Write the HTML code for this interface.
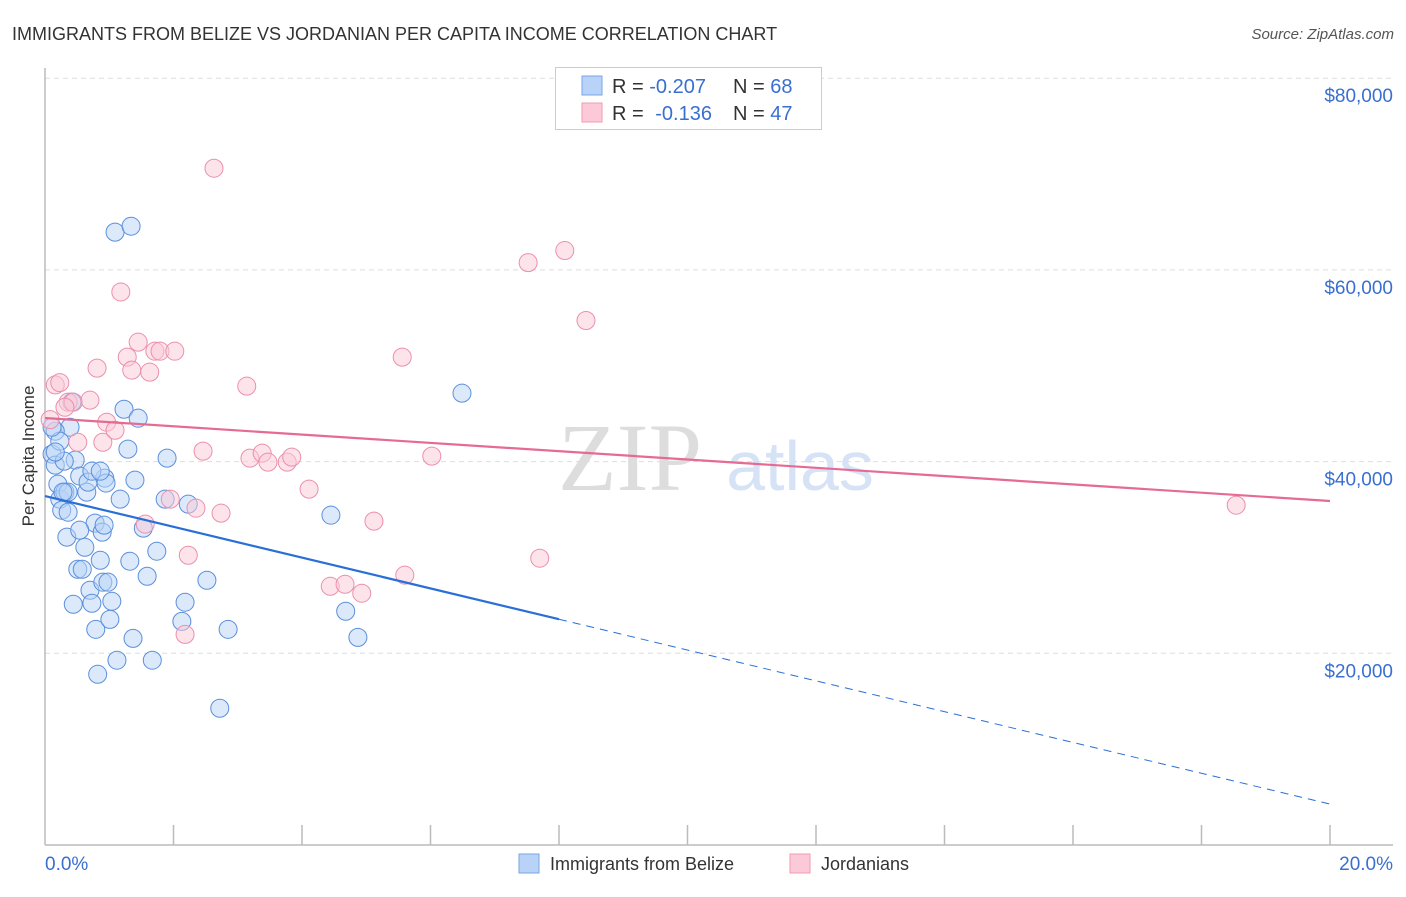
<!DOCTYPE html>
<html><head><meta charset="utf-8"><style>
body{margin:0;background:#fff;font-family:"Liberation Sans",sans-serif}
</style></head><body>
<svg id="c" width="1406" height="892" xmlns="http://www.w3.org/2000/svg" style="font-family:'Liberation Sans',sans-serif">
<text x="12" y="40" font-size="18" fill="#333">IMMIGRANTS FROM BELIZE VS JORDANIAN PER CAPITA INCOME CORRELATION CHART</text>
<text x="1394" y="39" font-size="15" fill="#555" font-style="italic" text-anchor="end">Source: ZipAtlas.com</text>
<text x="34" y="456" font-size="17" fill="#333" text-anchor="middle" transform="rotate(-90 34 456)">Per Capita Income</text>
<text x="630" y="490" font-size="96" fill="#ddd" font-family="Liberation Serif" text-anchor="middle">ZIP</text>
<text x="800" y="490" font-size="70" fill="#d6e2f5" text-anchor="middle">atlas</text>
<g id="grid"></g><g id="axes"></g><g id="pts"></g><g id="lines"></g>
<g>
<rect x="555.5" y="67.5" width="266" height="62" fill="#fff" stroke="#ccc"/>
<rect x="582" y="76" width="20" height="19" fill="#b8d3f7" stroke="#7aa6e6"/>
<rect x="582" y="103" width="20" height="19" fill="#fbc9d8" stroke="#f09ab4"/>
<text x="612" y="93" font-size="20" fill="#333">R = <tspan fill="#3a6fd0">-0.207</tspan></text>
<text x="733" y="93" font-size="20" fill="#333">N = <tspan fill="#3a6fd0">68</tspan></text>
<text x="612" y="120" font-size="20" fill="#333">R = <tspan fill="#3a6fd0" dx="6">-0.136</tspan></text>
<text x="733" y="120" font-size="20" fill="#333">N = <tspan fill="#3a6fd0">47</tspan></text>
</g>
<g>
<rect x="519" y="854" width="20" height="19" fill="#b8d3f7" stroke="#7aa6e6"/>
<text x="550" y="870" font-size="18" fill="#333">Immigrants from Belize</text>
<rect x="790" y="854" width="20" height="19" fill="#fbc9d8" stroke="#f09ab4"/>
<text x="821" y="870" font-size="18" fill="#333">Jordanians</text>
</g>
</svg>
<script>
const yTicks=[20000,40000,60000,80000];
const yTickLabels=["$20,000","$40,000","$60,000","$80,000"];
const xTickLabels=["0.0%","20.0%"];
const belizeX=[0.11,0.16,0.2,0.23,0.26,0.31,0.34,0.39,0.42,0.47,0.16,0.23,0.3,0.36,0.44,0.51,0.54,0.58,0.62,0.65,0.67,0.7,0.73,0.78,0.79,0.82,0.86,0.89,0.9,0.93,0.95,0.98,1.01,1.04,1.09,1.12,1.17,1.23,1.29,1.32,1.34,1.37,1.4,1.45,1.53,1.59,1.67,1.74,1.87,1.9,2.13,2.18,2.23,2.52,2.72,2.85,4.45,4.68,4.87,6.49,0.11,0.16,0.28,0.36,0.73,0.86,0.54,0.92];
const belizeY=[40780,39630,37650,36080,34930,36810,32120,43590,46200,40160,43170,42130,40050,36810,25120,28770,38490,28770,31060,36810,37860,26580,25220,33580,22500,17810,29710,32640,27420,38280,37760,27420,23540,25430,63940,19280,36080,45460,41300,29610,64560,21560,38070,44530,33060,28040,19280,30650,36080,40360,23330,25330,35560,27620,14270,22500,34410,24390,21660,47140,43590,41000,36810,34720,39000,39000,32850,33370];
const jordX=[0.16,0.23,0.08,0.36,0.44,0.51,0.7,0.81,0.9,0.96,1.09,1.18,1.28,1.35,1.45,1.63,1.71,1.79,2.02,1.95,2.23,2.18,2.35,2.46,2.63,2.74,3.14,3.19,3.38,3.47,3.77,3.84,4.11,4.44,4.67,4.93,5.12,5.56,5.6,6.02,7.52,7.7,8.09,8.42,18.54,1.56,0.31];
const jordY=[48000,48240,44380,46200,46200,42020,46410,49750,42020,44110,43270,57700,50900,49540,52460,49330,51520,51520,51520,36080,30230,21970,35140,41090,70610,34620,47870,40360,40880,39940,39940,40470,37130,26990,27200,26270,33790,50900,28150,40570,60760,29920,62020,54720,35450,33480,45670];
const belizeTrend=[36410,-1607];
const jordTrend=[44550,-433];
const X0=45,X1=1330,Y0=845,PY=191.7/20000;
const sx=v=>X0+(v/20)*(X1-X0), sy=v=>Y0-v*PY;
const NS="http://www.w3.org/2000/svg";
function mk(t,a,p){const e=document.createElementNS(NS,t);for(const k in a)e.setAttribute(k,a[k]);document.getElementById(p).appendChild(e);return e;}
yTicks.forEach((v,i)=>{
 const g=mk('line',{x1:X0,x2:1393,y1:sy(v),y2:sy(v),stroke:'#ddd','stroke-dasharray':'5,4'},'grid');
 
 
 const t=mk('text',{x:1393,y:sy(v)+24,'font-size':19,fill:'#3a6fd0','text-anchor':'end'},'axes');
 t.textContent=yTickLabels[i];
 
 
});
const ax=mk('line',{x1:X0,x2:1393,y1:Y0,y2:Y0,stroke:'#bbb','stroke-width':1.5},'axes');


const ay=mk('line',{x1:X0,x2:X0,y1:68,y2:Y0,stroke:'#bbb','stroke-width':1.5},'axes');


for(let i=1;i<=10;i++){const tk=mk('line',{x1:sx(i*2),x2:sx(i*2),y1:825,y2:Y0,stroke:'#bbb','stroke-width':1.5},'axes');
 
 }
[[X0,'start',0],[1393,'end',1]].forEach(([x,a,i])=>{const t=mk('text',{x:x,y:870,'font-size':19,fill:'#3a6fd0','text-anchor':a},'axes');t.textContent=xTickLabels[i];
 
 });
function pts(xs,ys,f,s,n){xs.forEach((x,i)=>{const c=mk('circle',{cx:sx(x),cy:sy(ys[i]),r:9,fill:f,'fill-opacity':0.5,stroke:s,'stroke-width':1},'pts');
 
 });}
pts(belizeX,belizeY,'#b8d3f7','#5b8fdc','belize-point');
pts(jordX,jordY,'#fbc9d8','#ec8fab','jordanian-point');
const [ba,bb]=belizeTrend,[ja,jb]=jordTrend;
let l=mk('line',{x1:sx(0),y1:sy(ba),x2:sx(8),y2:sy(ba+bb*8),stroke:'#2a6fd6','stroke-width':2.2},'lines');


l=mk('line',{x1:sx(8),y1:sy(ba+bb*8),x2:sx(20),y2:sy(ba+bb*20),stroke:'#2a6fd6','stroke-width':1,'stroke-dasharray':'8,6'},'lines');


l=mk('line',{x1:sx(0),y1:sy(ja),x2:sx(20),y2:sy(ja+jb*20),stroke:'#e56b93','stroke-width':2.2},'lines');


</script>
</body></html>
